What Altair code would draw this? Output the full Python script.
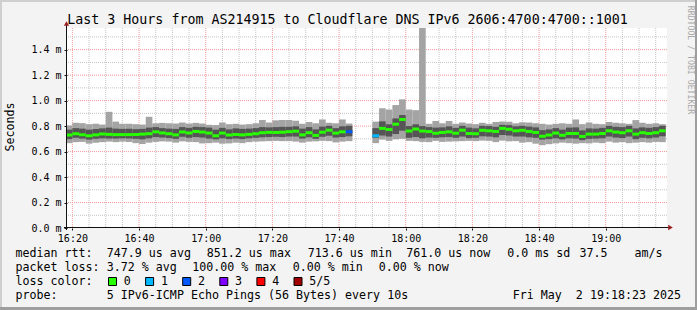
import json
import altair as alt
import pandas as pd

FONT = "DejaVu Sans Mono"

# ---------------- texts ----------------
title_text = "Last 3 Hours from AS214915 to Cloudflare DNS IPv6 2606:4700:4700::1001"
y_title = "Seconds"
watermark = "RRDTOOL / TOBI OETIKER"

# ---------------- time axis ----------------
first_bar = "16:18"          # start of first 2-minute bar
bar_step_min = 2
x_start = "16:18:23"
x_end = "19:18:23"
x_tick_labels = ["16:20", "16:40", "17:00", "17:20", "17:40", "18:00", "18:20", "18:40", "19:00"]

# ---------------- value axis (ms) ----------------
y_tick_values = [0.0, 0.2, 0.4, 0.6, 0.8, 1.0, 1.2, 1.4]
y_max = 1.57

# ---------------- series (ms), one entry per 2-minute bar ----------------
median = [
    0.730, 0.740, 0.732, 0.724, 0.731, 0.738, 0.735, 0.733, 0.733, 0.733,
    0.734, 0.737, 0.740, 0.755, 0.746, 0.740, 0.731, 0.754, 0.746, 0.758,
    0.753, 0.745, 0.724, 0.745, 0.730, 0.734, 0.731, 0.735, 0.740, 0.748,
    0.751, 0.750, 0.752, 0.756, 0.760, 0.731, 0.748, 0.727, 0.752, 0.768,
    0.745, 0.755, 0.756, None, None, None, 0.724, 0.782, 0.773, 0.815,
    0.852, 0.761, 0.777, 0.761, 0.757, 0.744, 0.750, 0.755, 0.744, 0.768,
    0.742, 0.740, 0.767, 0.763, 0.758, 0.782, 0.775, 0.763, 0.767, 0.758,
    0.750, 0.720, 0.730, 0.745, 0.728, 0.742, 0.742, 0.719, 0.737, 0.737,
    0.742, 0.763, 0.753, 0.748, 0.763, 0.737, 0.748, 0.742, 0.748, 0.763,
]
smoke_max = [
    0.805, 0.826, 0.823, 0.815, 0.818, 0.812, 0.912, 0.835, 0.818, 0.818,
    0.815, 0.812, 0.873, 0.822, 0.825, 0.822, 0.820, 0.828, 0.820, 0.825,
    0.820, 0.810, 0.808, 0.828, 0.815, 0.818, 0.812, 0.815, 0.822, 0.848,
    0.828, 0.845, 0.848, 0.848, 0.842, 0.818, 0.832, 0.822, 0.852, 0.826,
    0.822, 0.852, 0.820, None, None, None, 0.835, 0.940, 0.930, 0.965,
    1.010, 0.930, 0.925, 1.570, 0.818, 0.840, 0.822, 0.840, 0.818, 0.828,
    0.820, 0.815, 0.826, 0.818, 0.832, 0.836, 0.834, 0.822, 0.830, 0.828,
    0.822, 0.818, 0.812, 0.818, 0.822, 0.818, 0.852, 0.815, 0.828, 0.818,
    0.815, 0.832, 0.826, 0.822, 0.818, 0.847, 0.826, 0.818, 0.822, 0.815,
]
smoke_min = [
    0.666, 0.674, 0.676, 0.662, 0.670, 0.674, 0.678, 0.674, 0.678, 0.676,
    0.666, 0.659, 0.670, 0.676, 0.680, 0.678, 0.670, 0.680, 0.676, 0.674,
    0.664, 0.666, 0.670, 0.662, 0.664, 0.670, 0.666, 0.674, 0.678, 0.680,
    0.682, 0.684, 0.682, 0.682, 0.678, 0.670, 0.678, 0.680, 0.684, 0.682,
    0.672, 0.678, 0.682, None, None, None, 0.666, 0.694, 0.684, 0.696,
    0.700, 0.684, 0.682, 0.676, 0.674, 0.684, 0.676, 0.678, 0.680, 0.682,
    0.684, 0.682, 0.686, 0.684, 0.674, 0.686, 0.680, 0.682, 0.670, 0.674,
    0.662, 0.650, 0.658, 0.664, 0.670, 0.666, 0.662, 0.666, 0.664, 0.670,
    0.666, 0.678, 0.670, 0.674, 0.666, 0.670, 0.674, 0.670, 0.676, 0.674,
]
inner_hi = [
    0.772, 0.784, 0.780, 0.772, 0.778, 0.782, 0.788, 0.780, 0.778, 0.780,
    0.776, 0.778, 0.788, 0.792, 0.784, 0.780, 0.778, 0.792, 0.786, 0.794,
    0.792, 0.788, 0.772, 0.786, 0.774, 0.782, 0.778, 0.780, 0.784, 0.792,
    0.790, 0.792, 0.794, 0.794, 0.798, 0.780, 0.792, 0.774, 0.796, 0.802,
    0.784, 0.798, 0.802, None, None, None, 0.784, 0.837, 0.814, 0.860,
    0.887, 0.800, 0.814, 0.800, 0.792, 0.788, 0.790, 0.798, 0.786, 0.802,
    0.788, 0.782, 0.802, 0.800, 0.794, 0.810, 0.808, 0.798, 0.802, 0.796,
    0.790, 0.768, 0.774, 0.784, 0.772, 0.788, 0.790, 0.766, 0.782, 0.780,
    0.786, 0.802, 0.794, 0.792, 0.802, 0.782, 0.790, 0.786, 0.792, 0.802,
]
inner_lo = [
    0.698, 0.708, 0.702, 0.694, 0.700, 0.704, 0.702, 0.702, 0.704, 0.702,
    0.700, 0.696, 0.704, 0.714, 0.710, 0.706, 0.700, 0.716, 0.708, 0.714,
    0.710, 0.702, 0.696, 0.704, 0.698, 0.702, 0.698, 0.704, 0.708, 0.712,
    0.714, 0.716, 0.714, 0.718, 0.718, 0.702, 0.712, 0.700, 0.716, 0.724,
    0.710, 0.714, 0.720, None, None, None, 0.708, 0.726, 0.718, 0.738,
    0.764, 0.708, 0.714, 0.704, 0.710, 0.708, 0.712, 0.714, 0.708, 0.718,
    0.706, 0.708, 0.720, 0.718, 0.712, 0.730, 0.726, 0.718, 0.718, 0.712,
    0.708, 0.694, 0.698, 0.704, 0.696, 0.704, 0.702, 0.690, 0.700, 0.702,
    0.704, 0.718, 0.710, 0.706, 0.718, 0.698, 0.708, 0.704, 0.710, 0.720,
]
loss = [
    0, 0, 0, 0, 0, 0, 0, 0, 0, 0,
    0, 0, 0, 0, 0, 0, 0, 0, 0, 0,
    0, 0, 0, 0, 0, 0, 0, 0, 0, 0,
    0, 0, 0, 0, 0, 0, 0, 0, 0, 0,
    0, 0, 2, 5, 5, 5, 1, 0, 0, 0,
    0, 0, 0, 0, 0, 0, 0, 0, 0, 0,
    0, 0, 0, 0, 0, 0, 0, 0, 0, 0,
    0, 0, 0, 0, 0, 0, 0, 0, 0, 0,
    0, 0, 0, 0, 0, 0, 0, 0, 0, 0,
]
loss_labels = ["0", "1", "2", "3", "4", "5/5"]
loss_colors = ["#26ff00", "#00b8ff", "#0059ff", "#7e00ff", "#ff0000", "#a10000"]

# ---------------- legend texts ----------------
legend_line1 = [("median rtt:", 16), ("747.9 us avg", 107.3), ("851.2 us max", 207.3),
                ("713.6 us min", 308.3), ("761.0 us now", 406.7), ("0.0 ms sd", 507.7),
                ("37.5", 580), ("am/s", 635)]
legend_line2 = [("packet loss:", 16), ("3.72 % avg", 107.3), ("100.00 % max", 192.7),
                ("0.00 % min", 293.3), ("0.00 % now", 379.3)]
legend_line3 = [("loss color:", 16)]
legend_line4 = [("probe:", 16), ("5 IPv6-ICMP Echo Pings (56 Bytes) every 10s", 107.3),
                ("Fri May  2 19:18:23 2025", 513.3)]

# ---------------- colours ----------------
SMOKE_OUTER = "#a4a4a4"
SMOKE_INNER = "#555555"
GRID_MINOR = "#c4c4c4"
GRID_MAJOR = "#f29a9a"
AXIS_COLOR = "#111111"
ARROW_COLOR = "#9a1f1f"
BACK = "#f3f3f3"

# ---------------- layout ----------------
LEFT, TOP, W, H = 67, 28, 600, 200
TOTAL_W, TOTAL_H = 697, 310


def to_min(s):
    p = [int(v) for v in s.split(":")]
    while len(p) < 3:
        p.append(0)
    return (p[0] - 16) * 60 + p[1] + p[2] / 60.0


x0, x1 = to_min(x_start), to_min(x_end)
x_tick_values = [to_min(s) for s in x_tick_labels]
first = to_min(first_bar)

rows = []
for i, m in enumerate(median):
    if m is None:
        continue
    s = first + i * bar_step_min
    rows.append(dict(start=s, end=s + bar_step_min, med=m,
                     lo=smoke_min[i], hi=smoke_max[i],
                     ilo=inner_lo[i], ihi=inner_hi[i],
                     color=loss_colors[loss[i]]))
bars = pd.DataFrame(rows)

minor_x = [v for v in range(20, 200, 5) if v not in x_tick_values and x0 <= v <= x1]
minor_y = [round(k * 0.1, 1) for k in range(1, 16) if round(k * 0.1, 1) not in y_tick_values]
major_y = [v for v in y_tick_values if v > 0]

xs = alt.Scale(domain=[x0, x1], nice=False, zero=False)
ys = alt.Scale(domain=[0, y_max], nice=False, zero=False)

label_expr_x = "%s[indexof(%s, datum.value)]" % (json.dumps(x_tick_labels), json.dumps(x_tick_values))
xaxis = alt.Axis(values=x_tick_values, labelExpr=label_expr_x, title=None, grid=False,
                 domain=False, ticks=True, tickSize=2, tickColor=AXIS_COLOR,
                 labelFont=FONT, labelFontSize=10, labelColor="#000", labelPadding=3.5,
                 labelFlush=False, labelOverlap=False)
yaxis = alt.Axis(values=y_tick_values, labelExpr="format(datum.value, '.1f') + ' m'",
                 title=None, grid=False, domain=False, ticks=True, tickSize=3,
                 tickColor=AXIS_COLOR, labelFont=FONT, labelFontSize=10, labelColor="#000",
                 labelPadding=3, labelOverlap=False, labelFlush=False)


def X(f):
    return alt.X(f, type="quantitative", scale=xs, axis=xaxis)


def Y(f):
    return alt.Y(f, type="quantitative", scale=ys, axis=yaxis)


one = pd.DataFrame({"k": [0]})

layers = []
# grid
layers.append(alt.Chart(pd.DataFrame({"v": minor_x})).mark_rule(
    color=GRID_MINOR, strokeDash=[1, 1], strokeWidth=1).encode(x=X("v")))
layers.append(alt.Chart(pd.DataFrame({"v": minor_y})).mark_rule(
    color=GRID_MINOR, strokeDash=[1, 1], strokeWidth=1).encode(y=Y("v")))
layers.append(alt.Chart(pd.DataFrame({"v": x_tick_values})).mark_rule(
    color=GRID_MAJOR, strokeDash=[1, 1], strokeWidth=1).encode(x=X("v")))
layers.append(alt.Chart(pd.DataFrame({"v": major_y})).mark_rule(
    color=GRID_MAJOR, strokeDash=[1, 1], strokeWidth=1).encode(y=Y("v")))

# smoke
layers.append(alt.Chart(bars).mark_rect(color=SMOKE_OUTER, clip=True).encode(
    x=X("start"), x2="end", y=Y("lo"), y2="hi"))
layers.append(alt.Chart(bars).mark_rect(color=SMOKE_INNER, clip=True).encode(
    x=X("start"), x2="end", y=Y("ilo"), y2="ihi"))
# median
layers.append(alt.Chart(bars).mark_rule(strokeWidth=3, strokeCap="butt", clip=True).encode(
    x=X("start"), x2="end", y=Y("med"), color=alt.Color("color:N", scale=None)))

# axis lines and arrows
layers.append(alt.Chart(one).mark_rule(color=AXIS_COLOR, strokeWidth=1).encode(
    x=alt.value(-3), x2=alt.value(602), y=alt.value(H - 0.5)))
layers.append(alt.Chart(one).mark_rule(color=AXIS_COLOR, strokeWidth=1).encode(
    x=alt.value(-0.5), y=alt.value(-3), y2=alt.value(H + 2)))
layers.append(alt.Chart(one).mark_point(shape="triangle-right", filled=True, opacity=1,
                                        color=ARROW_COLOR, size=28).encode(
    x=alt.value(603.5), y=alt.value(H - 0.5)))
layers.append(alt.Chart(one).mark_point(shape="triangle-up", filled=True, opacity=1,
                                        color=ARROW_COLOR, size=28).encode(
    x=alt.value(-0.5), y=alt.value(-4.5)))


def txt(s, x, y, size=11.65, align="left", baseline="middle", angle=0, color="#000"):
    return alt.Chart(one).mark_text(font=FONT, fontSize=size, align=align, baseline=baseline,
                                    angle=angle, color=color).encode(
        x=alt.value(x - LEFT), y=alt.value(y - TOP), text=alt.value(s.replace(" ", "\u00a0")))


def box(x, y, w, h, fill, stroke=None):
    kw = dict(fill=fill)
    if stroke:
        kw.update(stroke=stroke, strokeWidth=1)
    return alt.Chart(one).mark_rect(**kw).encode(
        x=alt.value(x - LEFT), x2=alt.value(x + w - LEFT),
        y=alt.value(y - TOP), y2=alt.value(y + h - TOP))


# frame
layers.append(box(0, 0, TOTAL_W, 2, "#cfcfcf"))
layers.append(box(0, 0, 2, TOTAL_H, "#cfcfcf"))
layers.append(box(0, TOTAL_H - 3, TOTAL_W, 3, "#9e9e9e"))
layers.append(box(TOTAL_W - 2, 0, 2, TOTAL_H, "#9e9e9e"))

# titles
layers.append(txt(title_text, 347.5, 24, size=13.3, align="center", baseline="alphabetic"))
layers.append(txt(y_title, 11, 127, align="center", angle=270))
layers.append(txt(watermark, 690, 60, size=8.2, align="center", angle=90, color="#a8a8a8"))

# legend lines
line_y = [254.3, 268.3, 282.3, 296.3]
for ly, items in zip(line_y, [legend_line1, legend_line2, legend_line3, legend_line4]):
    for s, x in items:
        layers.append(txt(s, x - 0.5, ly))

for k, (lab, col) in enumerate(zip(loss_labels, loss_colors)):
    bx = 108.5 + 37.1 * k
    layers.append(box(bx, 277.5, 8, 8, col, stroke="#000"))
    layers.append(txt(lab, bx + 15.3, line_y[2]))

chart = alt.layer(*layers).properties(
    width=W, height=H,
    autosize=alt.AutoSizeParams(type="none"),
    padding={"left": LEFT, "top": TOP, "right": TOTAL_W - LEFT - W, "bottom": TOTAL_H - TOP - H},
    background=BACK,
).configure_view(fill="white", stroke=None)

chart.save("out.html", embed_options={"renderer": "svg", "actions": False})
